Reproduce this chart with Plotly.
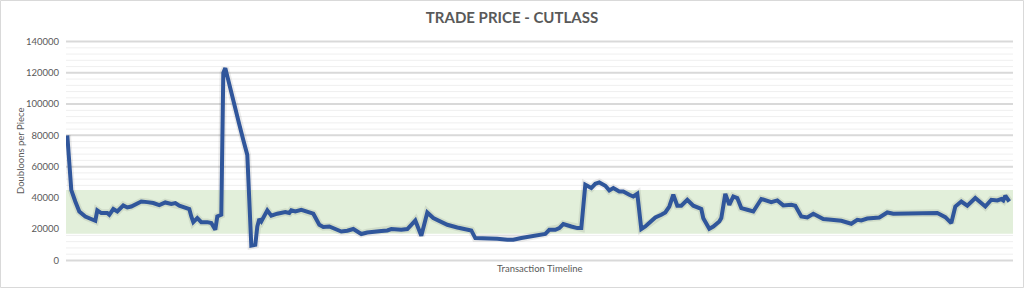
import plotly.graph_objects as go

# Transaction index along the timeline and traded price (doubloons per piece)
transaction = [
    0, 2, 4, 6, 9, 12, 14, 15, 17, 20, 21, 23, 25, 28, 30, 32, 37, 40, 43, 46,
    49, 52, 54, 56, 59, 61, 62, 63, 65, 67, 70, 72, 74, 75, 77, 78, 79, 83, 86, 88,
    89, 90, 92, 94, 95, 96, 97, 100, 102, 105, 109, 111, 112, 114, 117, 120, 123, 126, 128, 131, 133,
    137, 140, 143, 145, 147, 150, 153, 157, 160, 162, 167, 170, 172, 174, 177, 178, 180, 183, 187, 190,
    195, 201, 202, 204, 210, 215, 220, 223, 227, 230, 233, 237, 239, 241, 244, 246, 248, 252, 255, 257,
    259, 262, 264, 266, 269, 271, 273, 276, 278, 281, 283, 285, 287, 289, 292, 294, 297, 299, 301, 303,
    305, 307, 310, 313, 316, 317, 318, 321, 323, 326, 327, 329, 331, 333, 335, 337, 340, 343, 347, 349,
    352, 355, 358, 362, 364, 367, 370, 373, 376, 378, 382, 387, 392, 395, 397, 400, 406, 410, 413, 422,
    430, 435, 439, 442, 444, 447, 450, 454, 459, 462, 465, 467, 468, 469, 471,
]
price = [
    80000, 45000, 37700, 31300, 28100, 26500, 25400, 32000, 30300, 30300, 29200, 32900, 31300, 35200, 33900, 34500, 37700, 37300, 36700, 35400,
    37100, 36200, 36700, 35000, 34100, 32900, 28100, 24500, 27100, 24500, 24500, 23900, 19600, 28100, 29200, 120000, 123000, 101000, 87000, 77000,
    71000, 67500, 9500, 10000, 21700, 26500, 24900, 32000, 28600, 29900, 30900, 30300, 32000, 31300, 32400, 30900, 29900, 22800, 21400, 21700, 20700,
    18500, 19000, 20100, 18500, 16900, 17900, 18500, 18800, 19200, 20100, 19600, 20100, 22800, 25600, 15800, 21700, 30700, 27100, 24300, 22800,
    21100, 19600, 19200, 14300, 14300, 13900, 13200, 13200, 14300, 15000, 15300, 16000, 17000, 19600, 19600, 20700, 23300, 21700, 20700, 20700,
    48400, 46300, 49000, 49900, 47800, 44800, 46300, 44100, 44100, 42000, 40900, 42600, 20100, 21700, 24900, 27500, 29200, 30700, 34500, 42000,
    35000, 35000, 38800, 35000, 33500, 32900, 27000, 20300, 21700, 24900, 27100, 42600, 35600, 40900, 39900, 33500, 32400, 31300, 39300, 38400,
    37300, 38400, 35200, 35600, 35000, 28100, 27500, 29900, 27700, 26500, 26000, 25400, 23500, 26000, 25600, 26800, 27500, 30700, 29900, 29900,
    29900, 30300, 27700, 23900, 34500, 37700, 35000, 39900, 34500, 38800, 38400, 39300, 38400, 41400, 37700,
]

# Typical price band (shaded)
band_low = 17000
band_high = 45000

y_ticks = [0, 20000, 40000, 60000, 80000, 100000, 120000, 140000]
y_tick_labels = [str(v) for v in y_ticks]
y_minor_step = 4000

title_text = "TRADE PRICE - CUTLASS"
y_title = "Doubloons per Piece"
x_title = "Transaction Timeline"

FONT = "Lato"
TXT = "#595959"
W, H = 1024, 288
L, R, T, B = 66, 11, 40, 26
PW, PH = W - L - R, H - T - B

fig = go.Figure()

# soft shadow under the line
fig.add_trace(go.Scatter(
    x=transaction, y=price, mode="lines",
    line=dict(color="rgba(0,0,0,0.08)", width=7.5),
    hoverinfo="skip", showlegend=False,
))
fig.add_trace(go.Scatter(
    x=transaction, y=price, mode="lines",
    line=dict(color="#30569b", width=4),
    showlegend=False,
))

shapes = []
# minor gridlines
v = 0
while v <= y_ticks[-1]:
    if v not in y_ticks:
        shapes.append(dict(type="line", xref="paper", yref="y", x0=0, x1=1, y0=v, y1=v,
                           line=dict(color="#efefef", width=1), layer="below"))
    v += y_minor_step
# major gridlines
for t in y_ticks:
    shapes.append(dict(type="line", xref="paper", yref="y", x0=0, x1=1, y0=t, y1=t,
                       line=dict(color="#d9d9d9", width=2), layer="below"))
# band drawn over the grid, under the line
shapes.append(dict(type="rect", xref="paper", yref="y", x0=0, x1=1, y0=band_low, y1=band_high,
                   fillcolor="#e2efda", line=dict(width=0), layer="below"))
# chart border
shapes.append(dict(type="rect", xref="paper", yref="paper",
                   x0=(0.5 - L) / PW, x1=(W - 0.5 - L) / PW,
                   y0=-(B - 0.5) / PH, y1=(PH + T - 0.5) / PH,
                   line=dict(color="#d9d9d9", width=1), fillcolor="rgba(0,0,0,0)", layer="above"))

annotations = [
    dict(text=y_title, xref="paper", yref="paper", x=(20 - L) / PW, y=0.5,
         textangle=-90, showarrow=False, xanchor="center", yanchor="middle",
         font=dict(family=FONT, size=9.5, color=TXT)),
    dict(text=x_title, xref="paper", yref="paper", x=0.5, y=-(268 - (T + PH)) / PH,
         showarrow=False, xanchor="center", yanchor="middle",
         font=dict(family=FONT, size=9.5, color=TXT)),
]

fig.update_layout(
    width=W, height=H,
    margin=dict(l=L, r=R, t=T, b=B),
    paper_bgcolor="white", plot_bgcolor="white",
    title=dict(text="<b>" + title_text + "</b>", x=0.5, xref="container", xanchor="center",
               y=1 - 18 / H, yref="container", yanchor="middle",
               font=dict(family=FONT, size=15, color=TXT)),
    xaxis=dict(range=[-0.65, 472.85], showgrid=False, zeroline=False, showticklabels=False,
               showline=False, ticks=""),
    yaxis=dict(range=[-1000, 141000], tickvals=y_ticks, ticktext=y_tick_labels,
               showgrid=False, zeroline=False,
               showline=False, ticks="", ticklabelstandoff=6,
               tickfont=dict(family=FONT, size=9.5, color=TXT)),
    shapes=shapes,
    annotations=annotations,
    showlegend=False,
)

fig.write_html("out.html")
